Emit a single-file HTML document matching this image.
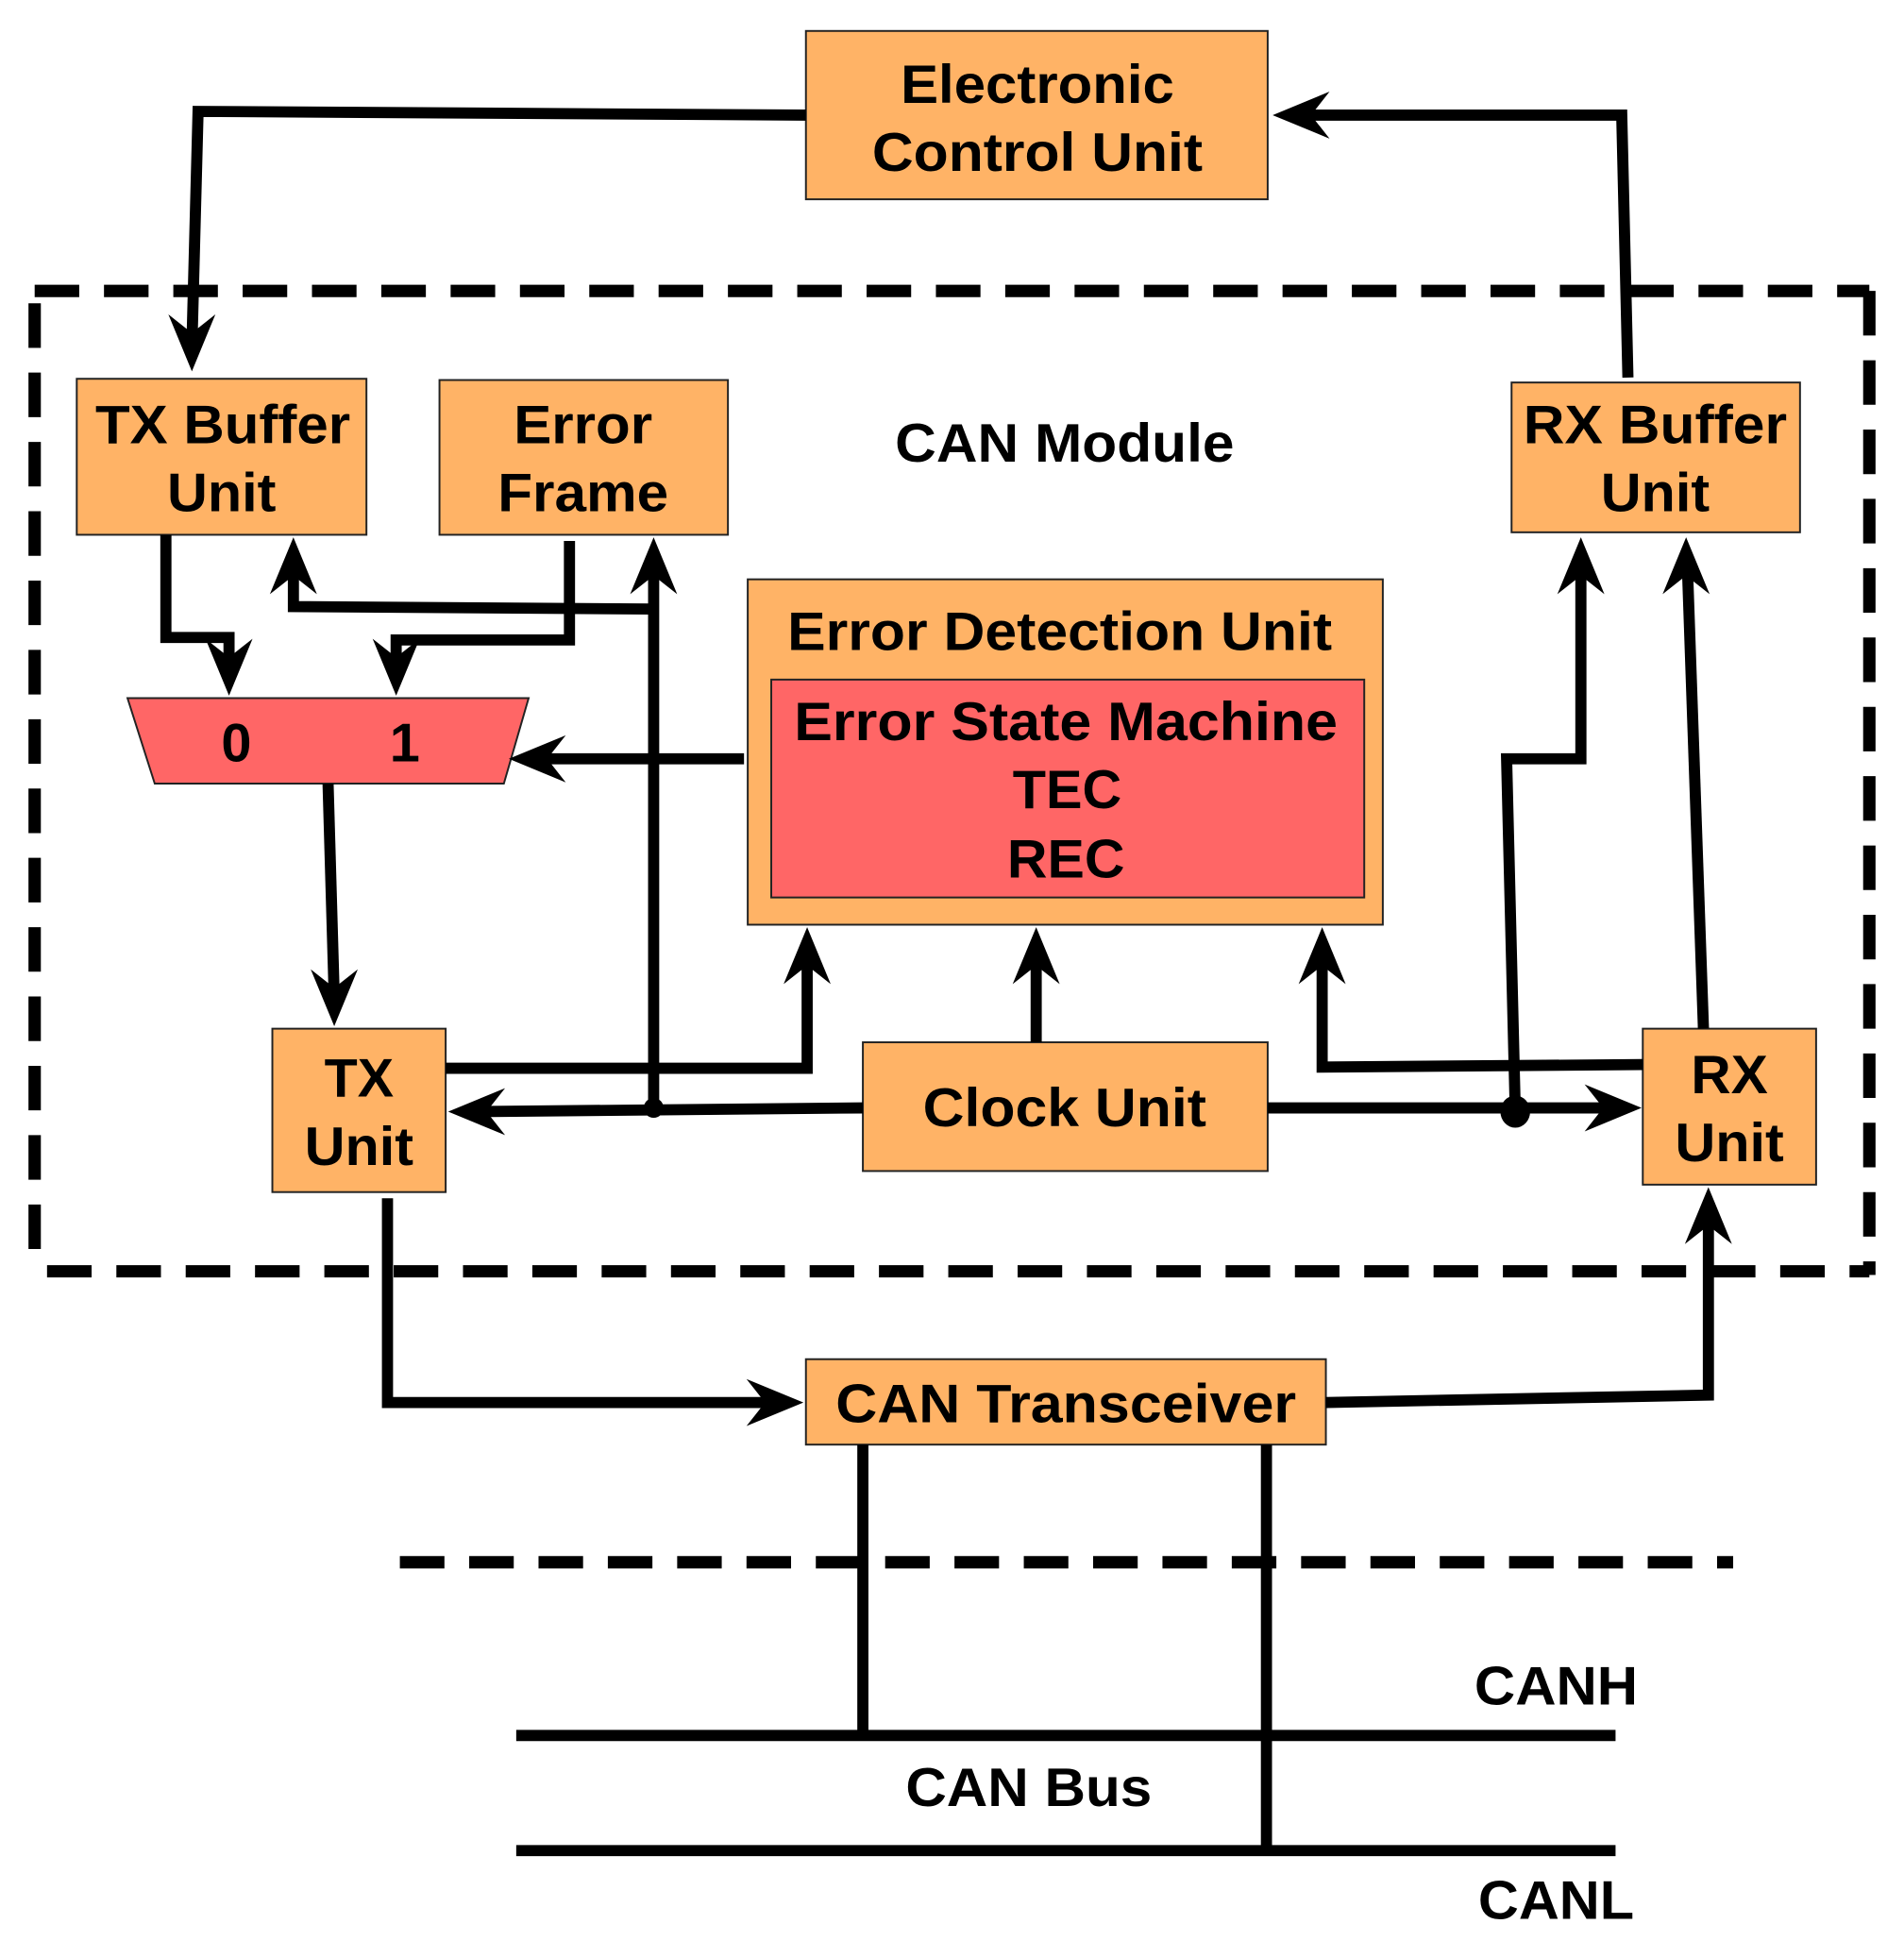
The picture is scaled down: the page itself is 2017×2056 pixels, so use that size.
<!DOCTYPE html>
<html><head><meta charset="utf-8"><style>html,body{margin:0;padding:0;background:#fff}svg{display:block}</style></head>
<body>
<svg width="2017" height="2056" viewBox="0 0 1538 1568" preserveAspectRatio="none" xmlns="http://www.w3.org/2000/svg">
<defs>
<path id="ah" d="M0,0 L-46,-19 L-31,0 L-46,19 Z" fill="#000"/>
</defs>
<g font-family="Liberation Sans, Arial, sans-serif" font-weight="bold" font-size="44" text-anchor="middle" fill="#000">
<g stroke="#000" stroke-width="10" fill="none" stroke-dasharray="36,20">
<path d="M28,235 L1510,235"/>
<path d="M28,245 L28,1027"/>
<path d="M1510,235 L1510,1030"/>
<path d="M38,1027 L1510,1027"/>
<path d="M323,1262 L1400,1262"/>
</g>
<g stroke="#222" stroke-width="1.5">
<rect x="651" y="25" width="373" height="136" fill="#FFB366"/>
<rect x="62" y="306" width="234" height="126" fill="#FFB366"/>
<rect x="355" y="307" width="233" height="125" fill="#FFB366"/>
<rect x="1221" y="309" width="233" height="121" fill="#FFB366"/>
<rect x="604" y="468" width="513" height="279" fill="#FFB366"/>
<rect x="623" y="549" width="479" height="176" fill="#FF6666"/>
<polygon points="103,564 427,564 407,633 125,633" fill="#FF6666"/>
<rect x="220" y="831" width="140" height="132" fill="#FFB366"/>
<rect x="697" y="842" width="327" height="104" fill="#FFB366"/>
<rect x="1327" y="831" width="140" height="126" fill="#FFB366"/>
<rect x="651" y="1098" width="420" height="69" fill="#FFB366"/>
</g>
<g stroke="#000" stroke-width="9" fill="none" stroke-linejoin="miter">
<path d="M651,93 L160,90 L155,280"/>
<path d="M1315,305 L1310,93 L1050,93"/>
<path d="M134,432 L134,515 L185,515 L185,540"/>
<path d="M460,437 L460,517 L320,517 L320,540"/>
<path d="M528,893 L528,457"/>
<path d="M528,492 L237,490 L237,457"/>
<path d="M601,613 L434,613"/>
<path d="M265,633 L270,806"/>
<path d="M360,863 L652,863 L652,772"/>
<path d="M697,895 L384,898"/>
<path d="M837,842 L837,772"/>
<path d="M1327,860 L1068,862 L1068,772"/>
<path d="M1024,895 L1303,895"/>
<path d="M1224,898 L1217,613 L1277,613 L1277,457"/>
<path d="M1376,831 L1363,457"/>
<path d="M313,968 L313,1133 L626,1133"/>
<path d="M1071,1133 L1380,1127 L1380,982"/>
<path d="M697,1167 L697,1402"/>
<path d="M1023,1167 L1023,1495"/>
<path d="M417,1402 L1305,1402"/>
<path d="M417,1495 L1305,1495"/>
</g>
<use href="#ah" transform="translate(155,300) rotate(90)"/>
<use href="#ah" transform="translate(1028,93) rotate(180)"/>
<use href="#ah" transform="translate(185,562) rotate(90)"/>
<use href="#ah" transform="translate(320,562) rotate(90)"/>
<use href="#ah" transform="translate(528,434) rotate(-90)"/>
<use href="#ah" transform="translate(237,434) rotate(-90)"/>
<use href="#ah" transform="translate(411,613) rotate(180)"/>
<use href="#ah" transform="translate(270,829) rotate(90)"/>
<use href="#ah" transform="translate(652,749) rotate(-90)"/>
<use href="#ah" transform="translate(362,898) rotate(180)"/>
<use href="#ah" transform="translate(837,749) rotate(-90)"/>
<use href="#ah" transform="translate(1068,749) rotate(-90)"/>
<use href="#ah" transform="translate(1326,895) rotate(0)"/>
<use href="#ah" transform="translate(1277,434) rotate(-90)"/>
<use href="#ah" transform="translate(1362,434) rotate(-90)"/>
<use href="#ah" transform="translate(649,1133) rotate(0)"/>
<use href="#ah" transform="translate(1380,959) rotate(-90)"/>
<circle cx="528" cy="895" r="8" fill="#000"/>
<ellipse cx="1224" cy="898" rx="12" ry="13" fill="#000"/>
<text x="838" y="83" textLength="221" lengthAdjust="spacingAndGlyphs">Electronic</text>
<text x="838" y="138" textLength="267" lengthAdjust="spacingAndGlyphs">Control Unit</text>
<text x="180" y="358" textLength="206" lengthAdjust="spacingAndGlyphs">TX Buffer</text>
<text x="179" y="413" textLength="88" lengthAdjust="spacingAndGlyphs">Unit</text>
<text x="471" y="358" textLength="112" lengthAdjust="spacingAndGlyphs">Error</text>
<text x="471" y="413" textLength="138" lengthAdjust="spacingAndGlyphs">Frame</text>
<text x="860" y="373" textLength="274" lengthAdjust="spacingAndGlyphs">CAN Module</text>
<text x="1337" y="358" textLength="213" lengthAdjust="spacingAndGlyphs">RX Buffer</text>
<text x="1337" y="413" textLength="88" lengthAdjust="spacingAndGlyphs">Unit</text>
<text x="856" y="525" textLength="440" lengthAdjust="spacingAndGlyphs">Error Detection Unit</text>
<text x="861" y="598" textLength="439" lengthAdjust="spacingAndGlyphs">Error State Machine</text>
<text x="862" y="653" textLength="88" lengthAdjust="spacingAndGlyphs">TEC</text>
<text x="861" y="709" textLength="95" lengthAdjust="spacingAndGlyphs">REC</text>
<text x="191" y="615">0</text>
<text x="327" y="615">1</text>
<text x="290" y="886" textLength="56" lengthAdjust="spacingAndGlyphs">TX</text>
<text x="290" y="941" textLength="88" lengthAdjust="spacingAndGlyphs">Unit</text>
<text x="860" y="910" textLength="229" lengthAdjust="spacingAndGlyphs">Clock Unit</text>
<text x="1397" y="883" textLength="62" lengthAdjust="spacingAndGlyphs">RX</text>
<text x="1397" y="938" textLength="88" lengthAdjust="spacingAndGlyphs">Unit</text>
<text x="861" y="1149" textLength="372" lengthAdjust="spacingAndGlyphs">CAN Transceiver</text>
<text x="1257" y="1377" textLength="132" lengthAdjust="spacingAndGlyphs">CANH</text>
<text x="831" y="1459" textLength="199" lengthAdjust="spacingAndGlyphs">CAN Bus</text>
<text x="1257" y="1550" textLength="126" lengthAdjust="spacingAndGlyphs">CANL</text>
</g>
</svg>
</body></html>
